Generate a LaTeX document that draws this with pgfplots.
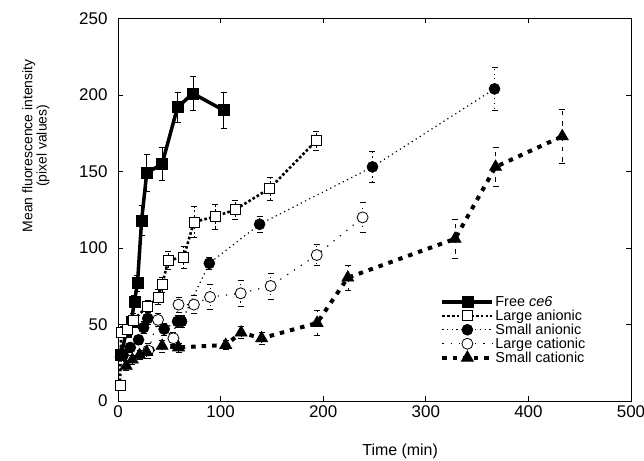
\documentclass[border=0pt]{standalone}
\usepackage{fontspec}
\setmainfont{Liberation Sans}
\usepackage{pgfplots}
\pgfplotsset{compat=1.18}

\pgfplotstableread{
x y e
3 30 0
8 45 3
13 52 3
16 65 4
19 77 5
23 118 10
28 149 12
43 155 11
58 192 10
73 201 11
103 190 12
}\freece

\pgfplotstableread{
x y e
2 10 2
3 45 3
9 47 3
15 53 4
29 62 4
39 68 5
43 76 5
49 92 6
64 94 7
74 117 10
94.5 120.5 8
114 125 6.5
148 139 7.5
193 170 6
}\largeanionic

\pgfplotstableread{
x y e
5 30 2
12 35 3
20 40 3
25 48 4
29 54 4
45 47 4
58 52 4
62 52 4
89 90 4
138 115.5 5
248 153 10
367 204 14
}\smallanionic

\pgfplotstableread{
x y e
29.5 33 5
39 53 4
54 41 4
59 63 5
74 63 6
89.7 68 8
119.6 70.4 8.4
148.8 75.2 8.5
193.7 95.4 7
238.4 120 10
}\largecationic

\pgfplotstableread{
x y e
3 31 3
8 23 3
14 27 3
21 30 3
28 32 4
43 36 4
59 35 3
105 36.6 3
120 44.7 4
140 41 4
194 51 8
224 80.6 8
328.5 106 13
368 153 13
433 173 17.5
}\smallcationic

\begin{document}
\begin{tikzpicture}[font=\fontsize{14.5}{16}\selectfont]
\path[use as bounding box] (-118bp,-60bp) rectangle (526bp,401bp);
\begin{axis}[
  at={(0,0)}, anchor=south west,
  scale only axis, width=513bp, height=382.5bp,
  xmin=0, xmax=500, ymin=0, ymax=250,
  xtick={0,100,...,500}, ytick={0,50,...,250},
  tick align=inside, major tick length=5bp,
  axis line style={line width=0.8bp}, tick style={line width=0.8bp, black},
  /pgf/number format/assume math mode=true,
  ticklabel style={font=\fontsize{17}{19}\selectfont},
  yticklabel style={xshift=-7bp},
  xticklabel style={yshift=-1bp},
  xlabel={Time (min)},
  ylabel={Mean fluorescence intensity\\(pixel values)},
  every axis x label/.style={at={(axis description cs:0.55,0)}, anchor=center,
    yshift=-50bp, font=\fontsize{16}{18}\selectfont},
  every axis y label/.style={at={(axis description cs:-0.16,0.667)}, rotate=90,
    anchor=center, align=center, font=\fontsize{14}{14.5}\selectfont},
  error bars/y dir=both, error bars/y explicit,
  error bars/error bar style={line width=0.6bp, black},
  error bars/error mark options={rotate=90, mark size=3bp, line width=0.6bp},
  legend style={at={(0.628,0.277)}, anchor=north west, draw=none, fill=none,
    inner sep=0pt, row sep=0pt, cells={anchor=west},
    nodes={inner sep=1bp}, font=\fontsize{14.5}{16}\selectfont},
  legend cell align=left,
  legend image code/.code={%
    \draw[mark repeat=2, mark phase=2] plot coordinates {(0bp,0bp) (25bp,0bp) (50bp,0bp)};},
  clip=false,
]
\addplot[black, line width=3.5bp, mark=square*, mark size=5.5bp,
  mark options={solid, fill=black, line width=0.6bp}]
  table[x=x, y=y, y error=e] {\freece};
\addlegendentry{Free \textit{ce6}}
\addplot[black, line width=2.6bp, dash pattern=on 2.6bp off 2.2bp, mark=square*, mark size=5bp,
  mark options={solid, fill=white, line width=0.8bp}]
  table[x=x, y=y, y error=e] {\largeanionic};
\addlegendentry{Large anionic}
\addplot[black, line width=1.2bp, dash pattern=on 1.2bp off 3.5bp, mark=*, mark size=5.5bp,
  mark options={solid, fill=black, line width=0.6bp}]
  table[x=x, y=y, y error=e] {\smallanionic};
\addlegendentry{Small anionic}
\addplot[black, line width=1.2bp, dash pattern=on 1.2bp off 7bp, mark=*, mark size=5.5bp,
  mark options={solid, fill=white, line width=0.8bp}]
  table[x=x, y=y, y error=e] {\largecationic};
\addlegendentry{Large cationic}
\addplot[black, line width=4bp, dash pattern=on 4.5bp off 6bp, mark=triangle*, mark size=7bp,
  mark options={solid, fill=black, line width=0.6bp}]
  table[x=x, y=y, y error=e] {\smallcationic};
\addlegendentry{Small cationic}
\end{axis}
\end{tikzpicture}
\end{document}
